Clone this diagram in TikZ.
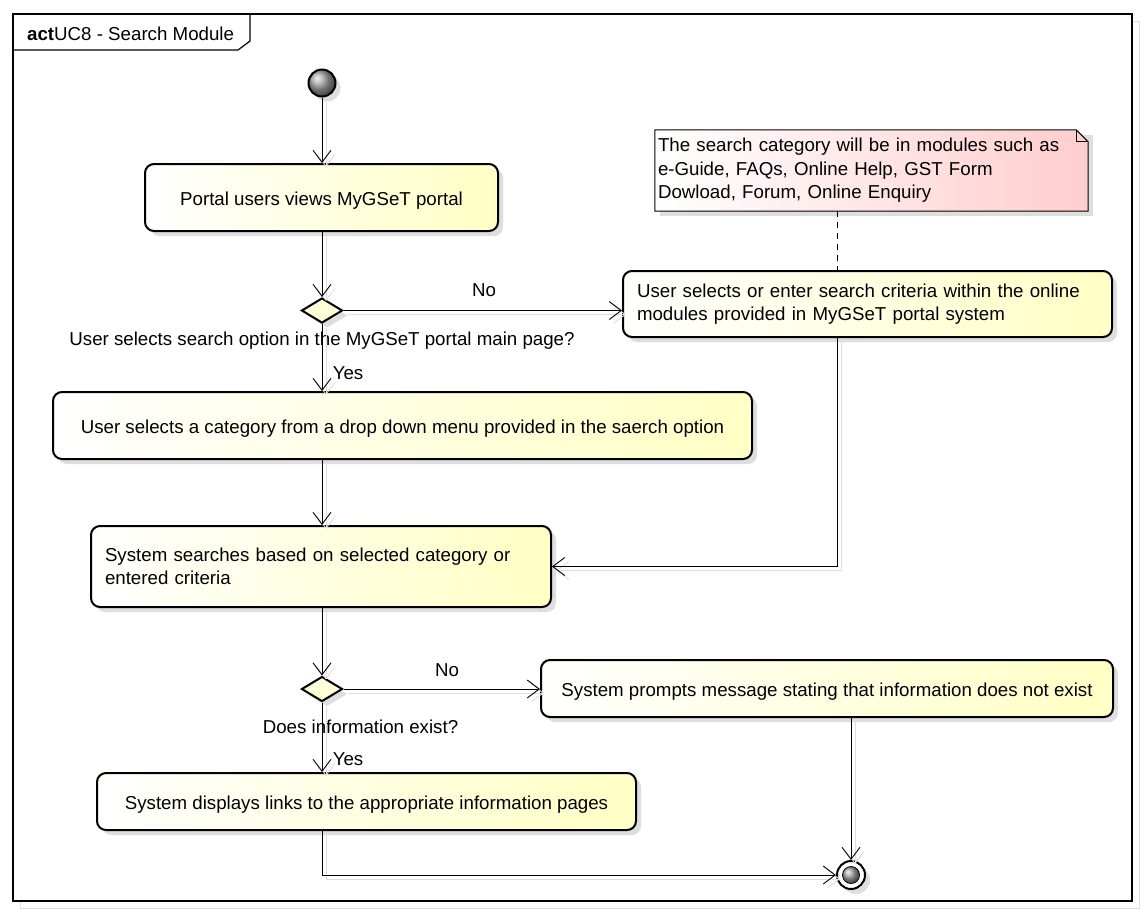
\documentclass[tikz,border=0pt]{standalone}
\usepackage{fontspec}
\setmainfont{Liberation Sans}
\usetikzlibrary{arrows.meta,shapes.geometric,shadows,calc}
\definecolor{actfill}{RGB}{255,255,196}
\definecolor{notefill}{RGB}{255,205,205}
\definecolor{shadegray}{RGB}{222,222,222}
\definecolor{decfill}{RGB}{255,255,215}
\begin{document}
\begin{tikzpicture}[x=1pt,y=-1pt,
  font=\fontsize{18.7}{23.5}\selectfont,
  boxshadow/.style={drop shadow={shadow xshift=5pt,shadow yshift=-5pt,fill=shadegray,opacity=1}},
  action/.style={draw, line width=2pt, rounded corners=9pt, left color=white, right color=actfill,
    boxshadow, inner sep=0pt, align=center},
  oneline/.style={action, text height=15.5pt, text depth=0pt},
  leftaction/.style={action, align=left, inner xsep=14pt},
  decision/.style={shape=diamond, draw, line width=2pt, fill=decfill, inner sep=0pt,
    minimum width=41pt, minimum height=25pt, boxshadow},
  conn/.style={line width=0.9pt, -{Straight Barb[length=12pt,width=18pt,line width=0.9pt]},
    preaction={draw=shadegray, line width=0.9pt, transform canvas={shift={(4,4)}}}},
  lbl/.style={inner sep=0pt},
]
\useasboundingbox (0,0) rectangle (1145,914);
% frame
\draw[shadegray, line width=1pt] (20,21) rectangle (1139,908);
\draw[line width=1.2pt, fill=white] (13,14) rectangle (1132,901);
\draw[line width=1.2pt] (13,50) -- (238,50) -- (250,41) -- (250,14);
\node[lbl, anchor=west] (title) at (27,34) {\textbf{act}UC8 - Search Module};

% start node
\node[circle, draw, line width=2pt, minimum size=27pt, inner sep=0pt, shading=ball, ball color=gray!70,
  drop shadow={shadow xshift=5pt,shadow yshift=-5pt,fill=shadegray,opacity=1}] (start) at (322,83) {};

% actions
\node[oneline, minimum width=353pt, minimum height=67pt] (a1) at (321.5,197.5) {Portal users views MyGSeT portal};
\node[decision] (d1) at (322,310.5) {};
\node[leftaction, minimum width=489pt, minimum height=66pt, text width=461pt] (a2) at (867.5,304)
  {User selects or enter search criteria within the online\\modules provided in MyGSeT portal system};
\node[oneline, minimum width=699pt, minimum height=67pt] (a3) at (402.5,425.5)
  {User selects a category from a drop down menu provided in the saerch option};
\node[leftaction, minimum width=460pt, minimum height=81pt, text width=432pt] (a4) at (321,566.5)
  {System searches based on selected category or\\entered criteria};
\node[decision] (d2) at (322,689) {};
\node[oneline, minimum width=572pt, minimum height=57pt] (a5) at (827,688.5)
  {System prompts message stating that information does not exist};
\node[oneline, minimum width=539pt, minimum height=57pt] (a6) at (366.5,801.5)
  {System displays links to the appropriate information pages};

% note
\node[inner sep=0pt, minimum width=433pt, minimum height=81pt] (note) at (871.5,170.5) {};
\fill[shadegray] ($(note.north west)+(5,5)$) rectangle ($(note.south east)+(5,5)$);
\draw[line width=1pt, left color=white, right color=notefill]
  (note.north west) -- ($(note.north east)+(-12,0)$) -- ($(note.north east)+(0,12)$) -- (note.south east) -- (note.south west) -- cycle;
\draw[line width=0.8pt] ($(note.north east)+(-12,0)$) -- ($(note.north east)+(-12,12)$) -- ($(note.north east)+(0,12)$);
\node[inner xsep=3pt, inner ysep=0pt, minimum width=433pt, minimum height=81pt, text width=427pt, align=left] (notetext) at (note.center)
  {The search category will be in modules such as\\e-Guide, FAQs, Online Help, GST Form\\Dowload, Forum, Online Enquiry};
\coordinate (nb) at ($(note.south west)+(183,0)$);
\draw[line width=0.9pt, dash pattern=on 6pt off 5pt] (nb) -- (nb |- a2.north);

% final node
\node[circle, draw, line width=2pt, fill=white, minimum size=28pt, inner sep=0pt,
  drop shadow={shadow xshift=5pt,shadow yshift=-5pt,fill=shadegray,opacity=1}] (fin) at (851,875) {};
\node[circle, draw, line width=0.8pt, minimum size=17pt, inner sep=0pt, shading=ball, ball color=gray!70] (finin) at (fin.center) {};

% connectors
\draw[conn] (start) -- (start |- a1.north);
\draw[conn] (d1 |- a1.south) -- (d1.north);
\draw[conn] (d1.east) -- (d1 -| a2.west);
\node[lbl] (no1) at (484,290) {No};
\node[lbl] (q1) at (322,341) {User selects search option in the MyGSeT portal main page?};
\draw[conn] (d1.south) -- (d1 |- a3.north);
\node[lbl] (yes1) at (348,373) {Yes};
\draw[conn] (d1 |- a3.south) -- (d1 |- a4.north);
\draw[conn] (nb |- a2.south) |- (a4.east);
\draw[conn] (d2 |- a4.south) -- (d2.north);
\draw[conn] (d2.east) -- (d2 -| a5.west);
\node[lbl] (no2) at (447,670) {No};
\node[lbl] (q2) at (360.5,727) {Does information exist?};
\draw[conn] (d2.south) -- (d2 |- a6.north);
\node[lbl] (yes2) at (348,759) {Yes};
\draw[conn] (fin |- a5.south) -- (fin.north);
\draw[conn] (d2 |- a6.south) |- (fin.west);
\end{tikzpicture}
\end{document}
